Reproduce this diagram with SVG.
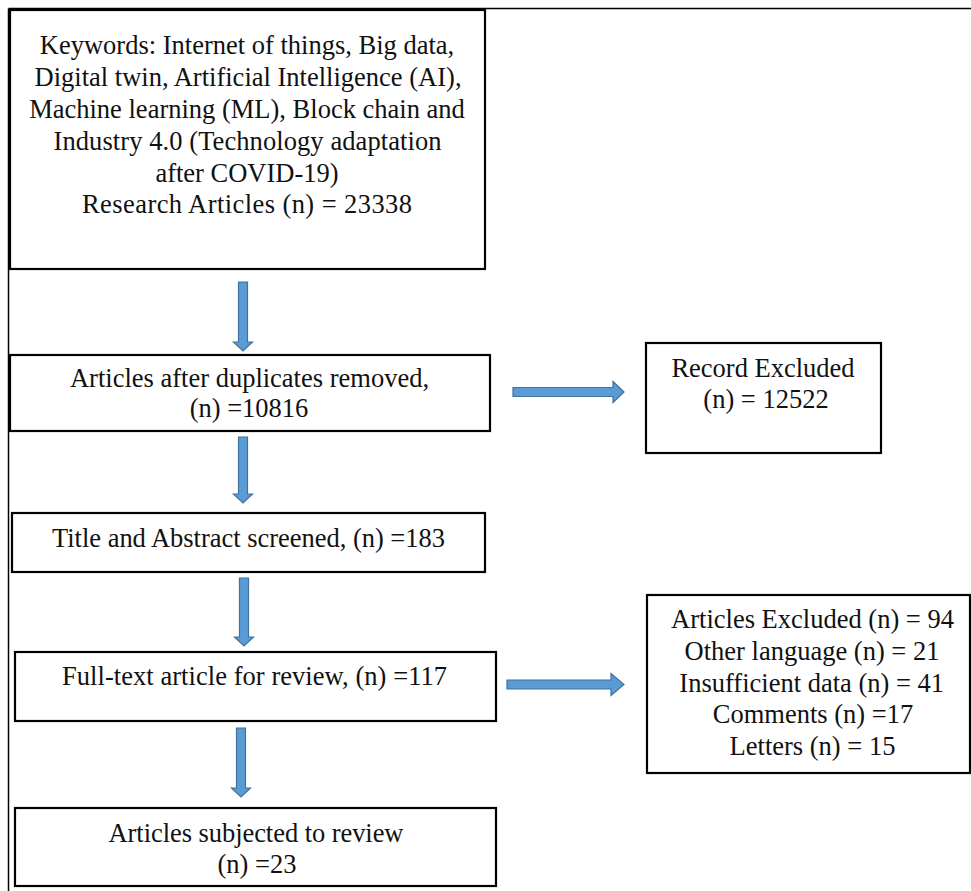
<svg xmlns="http://www.w3.org/2000/svg" width="971" height="891" viewBox="0 0 971 891">
<style>
.box{fill:#fff;stroke:#000;stroke-width:2.2}
.t{font-family:"Liberation Serif","Times New Roman",serif;font-size:26.5px;fill:#111;text-anchor:middle}
.arr{fill:#5B9BD5;stroke:#41719C;stroke-width:1.2;stroke-linejoin:miter}
.frame{stroke:#000;stroke-width:1.5;fill:none}
</style>
<rect width="971" height="891" fill="#fff"/>
<g id="frame">
<path class="frame" d="M8.5 8.5H971M8.5 8.5V891"/>
</g>
<g id="connectors">
<polygon class="arr" points="238.5,282 247.5,282 247.5,342 252.5,342 243,351 233.5,342 238.5,342"/>
<polygon class="arr" points="238.5,437 247.5,437 247.5,494 252.5,494 243,503 233.5,494 238.5,494"/>
<polygon class="arr" points="239.5,578 248.5,578 248.5,637 253.5,637 244,646 234.5,637 239.5,637"/>
<polygon class="arr" points="236.5,728 245.5,728 245.5,788 250.5,788 241,797 231.5,788 236.5,788"/>
<polygon class="arr" points="513,387.5 613,387.5 613,381.5 624,392 613,402.5 613,396.5 513,396.5"/>
<polygon class="arr" points="507,680 611,680 611,673.5 624,684.5 611,695.5 611,689 507,689"/>
</g>
<g id="keywords">
<rect class="box" x="10" y="10" width="475" height="259"/>
<text class="t" x="247" y="54">Keywords: Internet of things, Big data,</text>
<text class="t" x="248" y="86" textLength="427">Digital twin, Artificial Intelligence (AI),</text>
<text class="t" x="247" y="118">Machine learning (ML), Block chain and</text>
<text class="t" x="247.5" y="150" textLength="388">Industry 4.0 (Technology adaptation</text>
<text class="t" x="247" y="182">after COVID-19)</text>
<text class="t" x="247" y="213" textLength="330">Research Articles (n) = 23338</text>
</g>
<g id="duplicates">
<rect class="box" x="10" y="355" width="480" height="76"/>
<text class="t" x="249.5" y="387">Articles after duplicates removed,</text>
<text class="t" x="249" y="417">(n) =10816</text>
</g>
<g id="record-excluded">
<rect class="box" x="646" y="343" width="235" height="110"/>
<text class="t" x="763" y="377">Record Excluded</text>
<text class="t" x="766" y="408">(n) = 12522</text>
</g>
<g id="screened">
<rect class="box" x="12" y="513" width="473" height="59"/>
<text class="t" x="248.5" y="547" textLength="393">Title and Abstract screened, (n) =183</text>
</g>
<g id="fulltext">
<rect class="box" x="15" y="652" width="481" height="69"/>
<text class="t" x="254.5" y="685" textLength="385">Full-text article for review, (n) =117</text>
</g>
<g id="articles-excluded">
<rect class="box" x="647" y="595" width="323" height="178"/>
<text class="t" x="812.5" y="628">Articles Excluded (n) = 94</text>
<text class="t" x="812" y="660">Other language (n) = 21</text>
<text class="t" x="811.7" y="692">Insufficient data (n) = 41</text>
<text class="t" x="813" y="723">Comments (n) =17</text>
<text class="t" x="812.5" y="755">Letters (n) = 15</text>
</g>
<g id="review">
<rect class="box" x="15" y="808" width="481" height="78"/>
<text class="t" x="256" y="842" textLength="295">Articles subjected to review</text>
<text class="t" x="257" y="873">(n) =23</text>
</g>
</svg>
